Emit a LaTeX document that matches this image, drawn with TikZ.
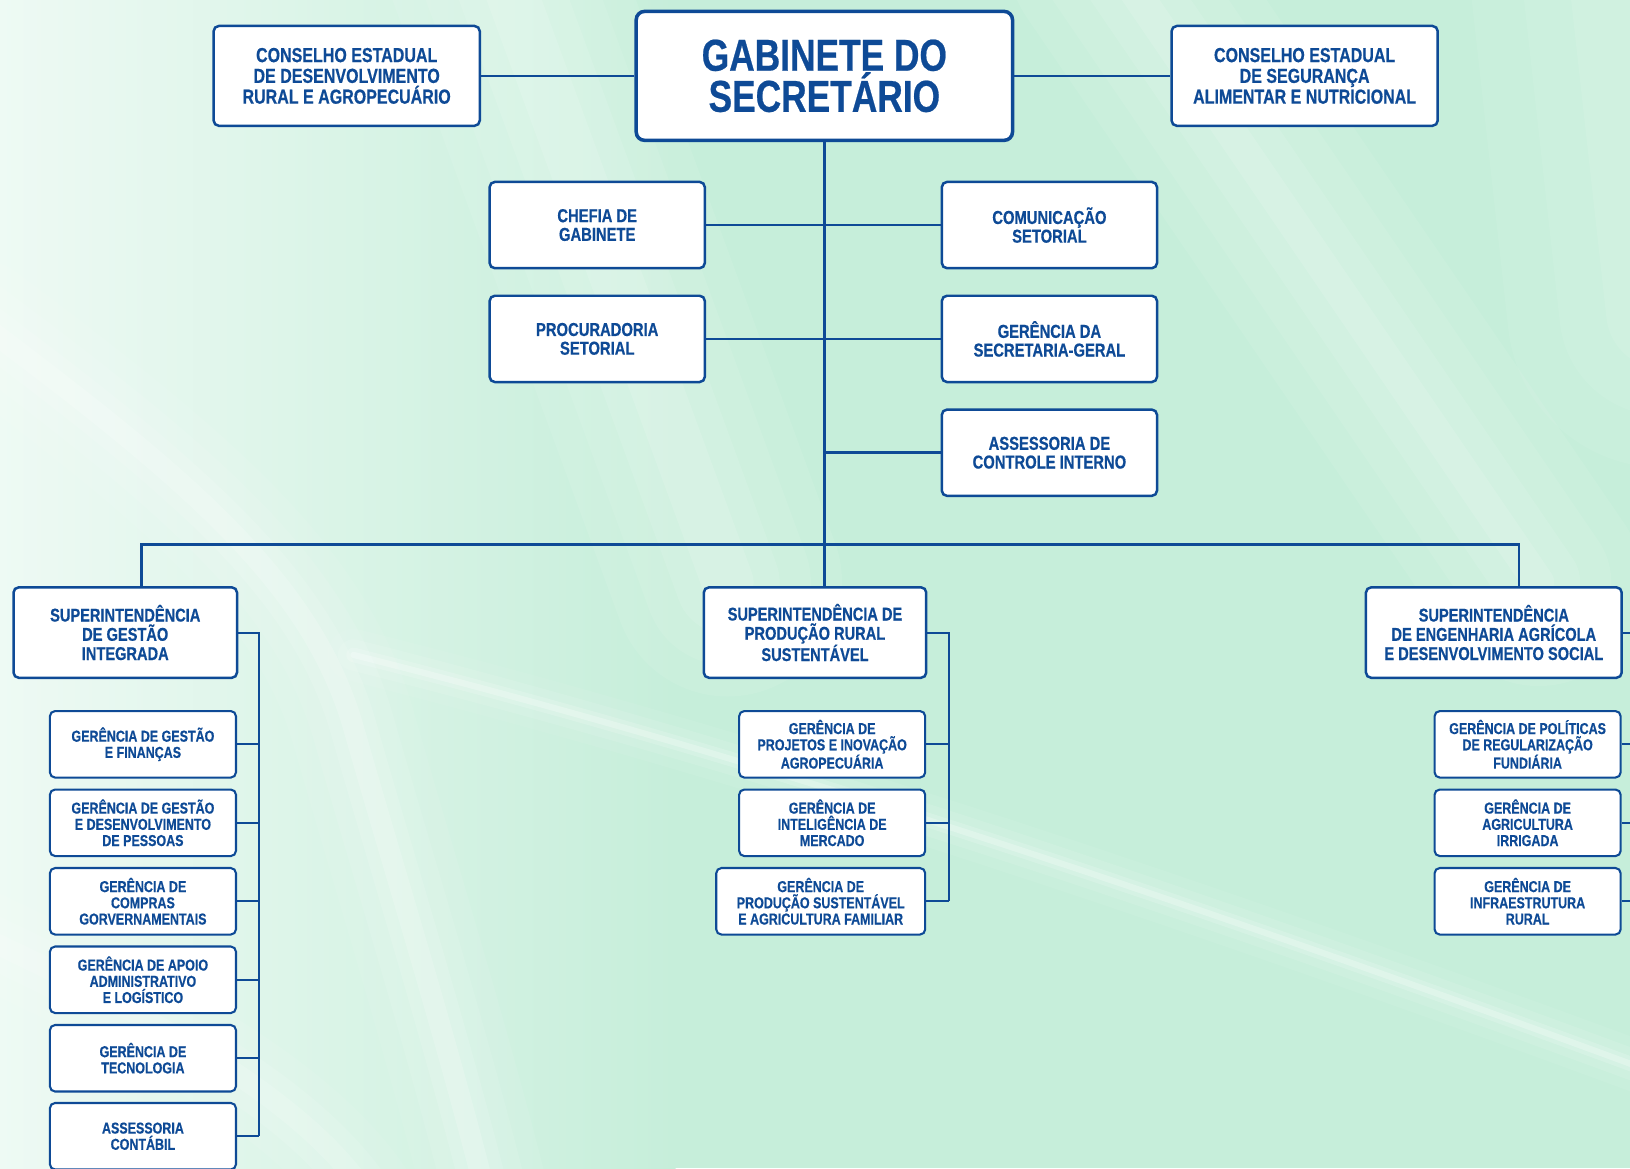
\documentclass[tikz,border=0pt]{standalone}
\usepackage{fontspec}
\setmainfont{Liberation Sans}[FakeStretch=0.79, BoldFeatures={FakeBold=0.5}]
\definecolor{ink}{RGB}{14,74,150}
\definecolor{bg}{RGB}{198,238,218}
\begin{document}
\begin{tikzpicture}[x=1pt,y=-1pt,
  box/.style={draw=ink, line width=2.4pt, fill=white, rounded corners=5pt, align=center, text=ink, inner sep=0pt},
  big/.style={box, line width=3.4pt, rounded corners=8pt, font={\bfseries\fontsize{43}{38}\selectfont}},
  cons/.style={box, minimum width=256pt, minimum height=96pt, font={\bfseries\fontsize{19.5}{20}\selectfont}},
  mid/.style={box, minimum width=207pt, minimum height=83pt, font={\bfseries\fontsize{18}{18}\selectfont}},
  sup/.style={box, minimum height=87pt, font={\bfseries\fontsize{17.8}{18.5}\selectfont}},
  ger/.style={box, line width=2pt, minimum width=179pt, minimum height=64pt, font={\bfseries\fontsize{15.2}{15.6}\selectfont}},
  conn/.style={draw=ink, line width=2.4pt},
  sconn/.style={draw=ink, line width=2pt},
  soft/.style={white, line cap=round}]
\clip (0,0) rectangle (1568,1124);
\useasboundingbox (0,0) rectangle (1568,1124);
% background
\fill[bg] (0,0) rectangle (1568,1124);
\shade[left color=white!70!bg, right color=bg] (0,0) rectangle (650,1124);
\foreach \w/\o in {220/0.08,160/0.08,100/0.1,50/0.12}
  \draw[soft, opacity=\o, line width=\w pt] (480,-40) -- (700,560);
\foreach \w/\o in {200/0.07,140/0.08,80/0.1,30/0.12}
  \draw[soft, opacity=\o, line width=\w pt] (1070,-40) -- (1480,560);
\foreach \w/\o in {300/0.06,200/0.07,110/0.08}
  \draw[soft, opacity=\o, line width=\w pt] (1560,-60) -- (1600,300);
\foreach \w/\o in {120/0.07,80/0.09,45/0.12,20/0.18}
  \draw[soft, opacity=\o, line width=\w pt] (-20,310) .. controls (180,460) and (300,560) .. (340,700) .. controls (380,840) and (430,1000) .. (470,1160);
\foreach \w/\o in {50/0.06,30/0.1,14/0.16,6/0.25}
  \draw[soft, opacity=\o, line width=\w pt] (340,630) .. controls (700,720) and (1100,850) .. (1600,1035);
\foreach \w/\o in {90/0.07,50/0.1,20/0.14}
  \draw[soft, opacity=\o, line width=\w pt] (-20,900) .. controls (150,980) and (300,1060) .. (360,1160);

% nodes
\node[big, minimum width=362pt, minimum height=124pt] (gab) at (793,73) {GABINETE DO\\SECRETÁRIO};
\node[cons] (cl) at (333.5,73) {CONSELHO ESTADUAL\\DE DESENVOLVIMENTO\\RURAL E AGROPECUÁRIO};
\node[cons] (cr) at (1255,73) {CONSELHO ESTADUAL\\DE SEGURANÇA\\ALIMENTAR E NUTRICIONAL};
\node[mid] (chefia) at (574.5,216.5) {CHEFIA DE\\GABINETE};
\node[mid] (com) at (1009.5,216.5) {COMUNICAÇÃO\\SETORIAL};
\node[mid] (proc) at (574.5,326) {PROCURADORIA\\SETORIAL};
\node[mid] (sg) at (1009.5,326) {GERÊNCIA DA\\SECRETARIA-GERAL};
\node[mid] (aci) at (1009.5,435.5) {ASSESSORIA DE\\CONTROLE INTERNO};

\node[sup, minimum width=215pt] (supL) at (120.5,608.5) {SUPERINTENDÊNCIA\\DE GESTÃO\\INTEGRADA};
\node[sup, minimum width=214pt] (supM) at (784,608.5) {SUPERINTENDÊNCIA DE\\PRODUÇÃO RURAL\\SUSTENTÁVEL};
\node[sup, minimum width=246pt] (supR) at (1437,608.5) {SUPERINTENDÊNCIA\\DE ENGENHARIA AGRÍCOLA\\E DESENVOLVIMENTO SOCIAL};

\node[ger] (l1) at (137.5,716) {GERÊNCIA DE GESTÃO\\E FINANÇAS};
\node[ger] (l2) at (137.5,791.5) {GERÊNCIA DE GESTÃO\\E DESENVOLVIMENTO\\DE PESSOAS};
\node[ger] (l3) at (137.5,867) {GERÊNCIA DE\\COMPRAS\\GORVERNAMENTAIS};
\node[ger] (l4) at (137.5,942.5) {GERÊNCIA DE APOIO\\ADMINISTRATIVO\\E LOGÍSTICO};
\node[ger] (l5) at (137.5,1018) {GERÊNCIA DE\\TECNOLOGIA};
\node[ger] (l6) at (137.5,1093) {ASSESSORIA\\CONTÁBIL};

\node[ger] (m1) at (800.5,716) {GERÊNCIA DE\\PROJETOS E INOVAÇÃO\\AGROPECUÁRIA};
\node[ger] (m2) at (800.5,791.5) {GERÊNCIA DE\\INTELIGÊNCIA DE\\MERCADO};
\node[ger, minimum width=201pt] (m3) at (789.5,867) {GERÊNCIA DE\\PRODUÇÃO SUSTENTÁVEL\\E AGRICULTURA FAMILIAR};

\node[ger] (r1) at (1469.5,716) {GERÊNCIA DE POLÍTICAS\\DE REGULARIZAÇÃO\\FUNDIÁRIA};
\node[ger] (r2) at (1469.5,791.5) {GERÊNCIA DE\\AGRICULTURA\\IRRIGADA};
\node[ger] (r3) at (1469.5,867) {GERÊNCIA DE\\INFRAESTRUTURA\\RURAL};

% connectors
\coordinate (busL) at (136,524);
\coordinate (busR) at (1461,524);
\coordinate (spL) at (249,0);
\coordinate (spM) at (913,0);
\coordinate (spR) at (1581,0);

\draw[conn] (gab.west) -- (cl.east);
\draw[conn] (gab.east) -- (cr.west);
\draw[conn] (gab.south) -- (gab.south |- supM.north);
\draw[conn] (chefia.east) -- (com.west);
\draw[conn] (proc.east) -- (sg.west);
\draw[conn] (aci.west) -- (aci.west -| gab.south);
\draw[conn] (busL |- supL.north) -- (busL) -- (busR) -- (busR |- supR.north);

\draw[sconn] (supL.east) -- (supL.east -| spL) -- (l6.east -| spL);
\foreach \n in {l1,l2,l3,l4,l5,l6} \draw[sconn] (\n.east) -- (\n.east -| spL);
\draw[sconn] (supM.east) -- (supM.east -| spM) -- (m3.east -| spM);
\foreach \n in {m1,m2,m3} \draw[sconn] (\n.east) -- (\n.east -| spM);
\draw[sconn] (supR.east) -- (supR.east -| spR) -- (r3.east -| spR);
\foreach \n in {r1,r2,r3} \draw[sconn] (\n.east) -- (\n.east -| spR);
\end{tikzpicture}
\end{document}
